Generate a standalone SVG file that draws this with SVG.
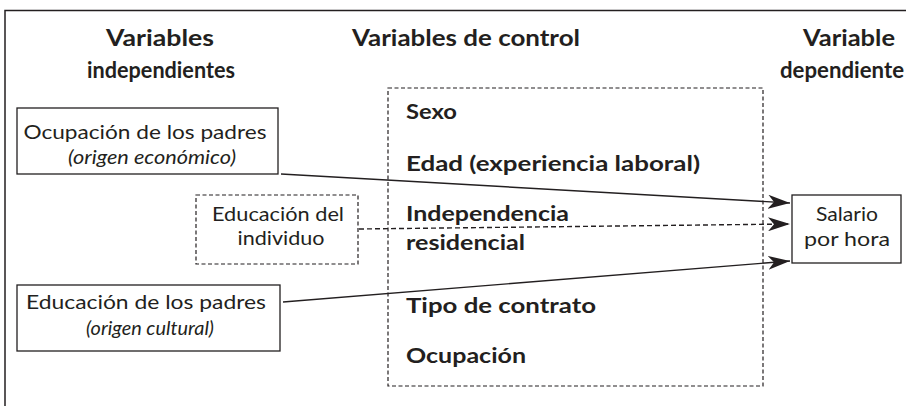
<svg xmlns="http://www.w3.org/2000/svg" width="906" height="406" viewBox="0 0 906 406">
<style>
.hdr{font-family:Lato,"Open Sans",sans-serif;font-weight:bold;font-size:22px;fill:#231f20;text-anchor:middle}
.ctl{font-family:Lato,"Open Sans",sans-serif;font-weight:bold;font-size:21px;fill:#231f20}
.reg{font-family:Lato,"Open Sans",sans-serif;font-size:20px;fill:#231f20;text-anchor:middle}
.it{font-style:italic}
.box{fill:#fff;stroke:#231f20;stroke-width:1.3}
.dbox{fill:none;stroke:#231f20;stroke-width:1.2;stroke-dasharray:4,2.5}
.ln{fill:none;stroke:#231f20;stroke-width:1.4}
.dln{fill:none;stroke:#231f20;stroke-width:1.4;stroke-dasharray:5,3}
</style>
<defs>
<marker id="ah" markerUnits="userSpaceOnUse" markerWidth="24" markerHeight="14" refX="22" refY="7" orient="auto">
<path d="M0,0 L22,7 L0,14 L6,7 Z" fill="#231f20"/>
</marker>
</defs>
<rect width="906" height="406" fill="#fff"/>
<path d="M5,406 V10.5 H906" fill="none" stroke="#231f20" stroke-width="1.5"/>
<g id="headers">
<text class="hdr" x="160" y="46" textLength="108" lengthAdjust="spacingAndGlyphs">Variables</text>
<text class="hdr" x="161" y="78" textLength="148" lengthAdjust="spacingAndGlyphs">independientes</text>
<text class="hdr" x="466" y="46" textLength="228" lengthAdjust="spacingAndGlyphs">Variables de control</text>
<text class="hdr" x="849" y="46" textLength="92" lengthAdjust="spacingAndGlyphs">Variable</text>
<text class="hdr" x="842" y="78" textLength="124" lengthAdjust="spacingAndGlyphs">dependiente</text>
</g>
<g id="control-variables">
<rect class="dbox" x="388" y="88" width="375" height="298"/>
<text class="ctl" x="406" y="119" textLength="51" lengthAdjust="spacingAndGlyphs">Sexo</text>
<text class="ctl" x="406" y="171" textLength="294" lengthAdjust="spacingAndGlyphs">Edad (experiencia laboral)</text>
<text class="ctl" x="406" y="221" textLength="163" lengthAdjust="spacingAndGlyphs">Independencia</text>
<text class="ctl" x="406" y="250" textLength="119" lengthAdjust="spacingAndGlyphs">residencial</text>
<text class="ctl" x="406" y="313" textLength="190" lengthAdjust="spacingAndGlyphs">Tipo de contrato</text>
<text class="ctl" x="406" y="363" textLength="120" lengthAdjust="spacingAndGlyphs">Ocupación</text>
</g>
<g id="ocupacion-padres">
<rect class="box" x="17" y="108" width="261" height="66"/>
<text class="reg" x="145" y="139" textLength="243" lengthAdjust="spacingAndGlyphs">Ocupación de los padres</text>
<text class="reg it" x="152" y="164" textLength="168" lengthAdjust="spacingAndGlyphs">(origen económico)</text>
</g>
<g id="educacion-individuo">
<rect class="dbox" x="196" y="195" width="162" height="69"/>
<text class="reg" x="278" y="221" textLength="132" lengthAdjust="spacingAndGlyphs">Educación del</text>
<text class="reg" x="281" y="245" textLength="87" lengthAdjust="spacingAndGlyphs">individuo</text>
</g>
<g id="educacion-padres">
<rect class="box" x="17" y="285" width="263" height="66"/>
<text class="reg" x="146" y="309" textLength="240" lengthAdjust="spacingAndGlyphs">Educación de los padres</text>
<text class="reg it" x="150" y="335" textLength="128" lengthAdjust="spacingAndGlyphs">(origen cultural)</text>
</g>
<g id="salario">
<rect class="box" x="792" y="195" width="109" height="68"/>
<text class="reg" x="847" y="221" textLength="62" lengthAdjust="spacingAndGlyphs">Salario</text>
<text class="reg" x="847" y="246" textLength="86" lengthAdjust="spacingAndGlyphs">por hora</text>
</g>
<g id="connectors">
<path class="ln" d="M281,174 L790,203" marker-end="url(#ah)"/>
<path class="dln" d="M359,229 L790,224" marker-end="url(#ah)"/>
<path class="ln" d="M283,302 L790,261" marker-end="url(#ah)"/>
</g>
</svg>
